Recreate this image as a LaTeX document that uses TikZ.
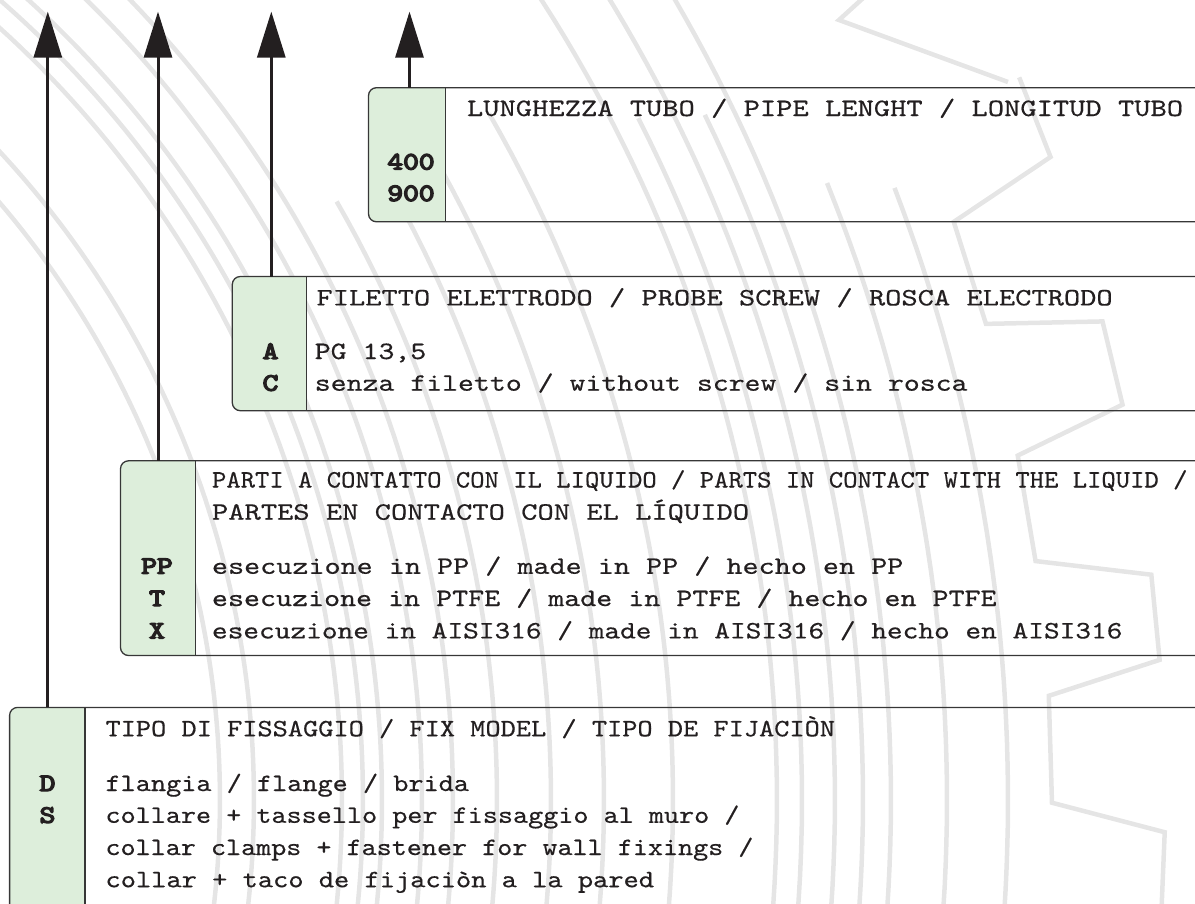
\documentclass[tikz,border=0pt]{standalone}
\usepackage{fontspec}
\newfontfamily\bodytt{lmmono10-regular.otf}[FakeBold=0.4]
\newfontfamily\codett{lmmono10-regular.otf}[FakeBold=5]
\usetikzlibrary{arrows.meta}
\definecolor{gfill}{RGB}{221,238,219}
\definecolor{bline}{RGB}{55,55,55}
\definecolor{ink}{RGB}{35,31,32}
\definecolor{bggray}{RGB}{229,229,229}
\newcommand{\mytt}{\fontsize{25}{30}\selectfont\bodytt}
\newcommand{\mycode}{\fontsize{25}{30}\selectfont\codett}
\newcommand{\hs}[2]{\scalebox{#1}[1]{#2}}
\tikzset{
  txt/.style={anchor=base west, inner sep=0pt, outer sep=0pt, font=\mytt, text=ink},
  code/.style={anchor=base, inner sep=0pt, outer sep=0pt, font=\mycode, text=ink},
  frame/.style={draw=bline, line width=1.3pt, rounded corners=8pt},
  divline/.style={draw=bline, line width=1.3pt},
  greencol/.style={fill=gfill},
  upArrow/.style={draw=ink, line width=3pt, -{Triangle[width=28pt,length=46pt]}},
  bgline/.style={draw=bggray, line width=4.5pt},
}
\begin{document}
\begin{tikzpicture}[x=1pt,y=-1pt]
\useasboundingbox (0,0) rectangle (1195,903);
\clip (0,0) rectangle (1195,903);

% ---------- background gear ----------
\begin{scope}[shift={(-700,800)}]
  % rings reaching the top edge
  \foreach \r in {920,954,1042,1063,1082,1122,1153,1477,1535,1591}
    \draw[bgline] plot[domain=-75:20, samples=120] (\x:\r);
  % shorter rings
  \foreach \r/\a in {1197/-30,1251/-30,1304/-30,1373/-30,1502/-27,1563/-26,1647/-22,1708/-21}
    \draw[bgline] plot[domain=\a:20, samples=100] (\x:\r);
  \draw[bgline, line join=miter] (-22.8:1865)
    \foreach \k [evaluate=\k as \s using {-22.8+7.93*\k}] in {0,...,3}
      { -- ({\s+2.63}:1865) -- ({\s+3.53}:1752) -- ({\s+7.03}:1752) -- ({\s+7.93}:1865) };
\end{scope}
\coordinate (g0) at (872,-10);
\coordinate (g1) at (839,20);
\coordinate (g2) at (1008,82);
\draw[bgline, line join=miter] (g0) -- (g1) -- (g2);

% ---------- box 1 : pipe length ----------
\fill[greencol, rounded corners=8pt] (368.5,87.7) rectangle (445.8,221.8);
\fill[greencol] (385,87.7) rectangle (445.8,221.8);
\draw[frame] (1210,87.7) -- (368.5,87.7) -- (368.5,221.8) -- (1210,221.8);
\draw[divline] (445.8,87.7) -- (445.8,221.8);
\node[txt] (t1) at (467,116) {\hs{1.24}{LUNGHEZZA TUBO / PIPE LENGHT / LONGITUD TUBO}};
\node[code] (c400) at (411,169.5) {\hs{1.2}{400}};
\node[code] (c900) at (411,201) {\hs{1.2}{900}};

% ---------- box 2 : probe screw ----------
\fill[greencol, rounded corners=8pt] (232.3,276.5) rectangle (306.5,410.7);
\fill[greencol] (250,276.5) rectangle (306.5,410.7);
\draw[frame] (1210,276.5) -- (232.3,276.5) -- (232.3,410.7) -- (1210,410.7);
\draw[divline] (306.5,276.5) -- (306.5,410.7);
\node[txt] (t2) at (316.5,305.4) {\hs{1.238}{FILETTO ELETTRODO / PROBE SCREW / ROSCA ELECTRODO}};
\node[code] (cA) at (270.5,359) {\hs{1.2}{A}};
\node[txt] (lA) at (314.8,359) {\hs{1.213}{PG 13,5}};
\node[code] (cC) at (270.5,390.7) {\hs{1.2}{C}};
\node[txt] (lC) at (314.8,390.7) {\hs{1.213}{senza filetto / without screw / sin rosca}};

% ---------- box 3 : wetted parts ----------
\fill[greencol, rounded corners=8pt] (120.5,460.8) rectangle (195.2,655.5);
\fill[greencol] (140,460.8) rectangle (195.2,655.5);
\draw[frame] (1210,460.8) -- (120.5,460.8) -- (120.5,655.5) -- (1210,655.5);
\draw[divline] (195.2,460.8) -- (195.2,655.5);
\node[txt] (t3a) at (212,487.5) {\hs{1.093}{PARTI A CONTATTO CON IL LIQUIDO / PARTS IN CONTACT WITH THE LIQUID /}};
\node[txt] (t3b) at (212,519.7) {\hs{1.24}{PARTES EN CONTACTO CON EL LÍQUIDO}};
\node[code] (cPP) at (157,573.8) {\hs{1.2}{PP}};
\node[txt] (lPP) at (212,573.8) {\hs{1.225}{esecuzione in PP / made in PP / hecho en PP}};
\node[code] (cT) at (157,606) {\hs{1.2}{T}};
\node[txt] (lT) at (212,606) {\hs{1.22}{esecuzione in PTFE / made in PTFE / hecho en PTFE}};
\node[code] (cX) at (157,638.4) {\hs{1.2}{X}};
\node[txt] (lX) at (212,638.4) {\hs{1.196}{esecuzione in AISI316 / made in AISI316 / hecho en AISI316}};

% ---------- box 4 : fixing ----------
\fill[greencol, rounded corners=8pt] (9.6,707.4) rectangle (85,940);
\fill[greencol] (30,707.4) rectangle (85,940);
\draw[frame] (1210,707.4) -- (9.6,707.4) -- (9.6,940);
\draw[divline] (85,707.4) -- (85,940);
\node[txt] (t4) at (105.5,736.3) {\hs{1.158}{TIPO DI FISSAGGIO / FIX MODEL / TIPO DE FIJACIÒN}};
\node[code] (cD) at (47.5,791) {\hs{1.2}{D}};
\node[txt] (lD) at (105.5,791) {\hs{1.154}{flangia / flange / brida}};
\node[code] (cS) at (47.5,822.8) {\hs{1.2}{S}};
\node[txt] (lS1) at (105.5,822.8) {\hs{1.150}{collare + tassello per fissaggio al muro /}};
\node[txt] (lS2) at (105.5,855) {\hs{1.148}{collar clamps + fastener for wall fixings /}};
\node[txt] (lS3) at (105.5,887.2) {\hs{1.161}{collar + taco de fijaciòn a la pared}};

% ---------- arrows ----------
\coordinate (b4) at (47.8,707.4);  \coordinate (tip4) at (47.8,11.6);
\coordinate (b3) at (158,460.8);   \coordinate (tip3) at (158,11.6);
\coordinate (b2) at (271.3,276.5); \coordinate (tip2) at (271.3,11.6);
\coordinate (b1) at (409.5,87.7);  \coordinate (tip1) at (409.5,11.6);
\draw[upArrow] (b4) -- (tip4);
\draw[upArrow] (b3) -- (tip3);
\draw[upArrow] (b2) -- (tip2);
\draw[upArrow] (b1) -- (tip1);
\end{tikzpicture}
\end{document}
